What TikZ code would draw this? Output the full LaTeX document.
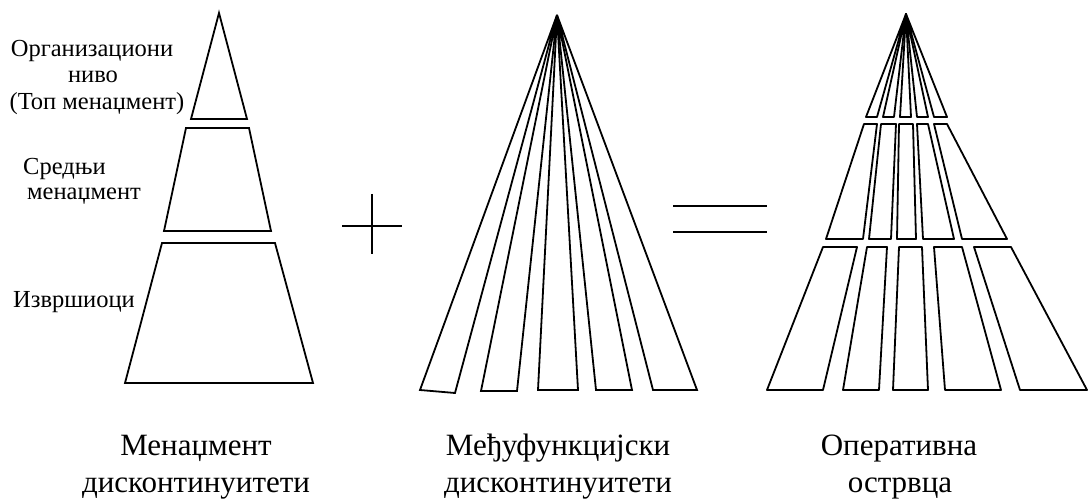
\documentclass[tikz,border=0pt]{standalone}
\usepackage{fontspec}
\setmainfont{Liberation Serif}
\tikzset{
  lvlshape/.style={draw=black, line width=1.8pt, line join=miter},
  fanstrip/.style={draw=black, line width=1.8pt, line join=miter},
  islebox/.style={draw=black, line width=1.8pt, line join=round},
  opsign/.style={line width=2.8pt, draw=black, line cap=butt},
  sidelbl/.style={font=\fontsize{24.5}{27}\selectfont, inner sep=0pt},
  captlbl/.style={font=\fontsize{31}{43}\selectfont, inner sep=0pt},
}
\begin{document}
\begin{tikzpicture}[x=1pt,y=-1pt]
\useasboundingbox (0,0) rectangle (1088,502);
% management levels
\draw[lvlshape] (219,13) -- (247,119) -- (191,119) -- cycle;
\draw[lvlshape] (186,128) -- (249,128) -- (271,231) -- (164,231) -- cycle;
\draw[lvlshape] (162,243) -- (275,243) -- (313,383) -- (125,383) -- cycle;
\node[sidelbl, anchor=base] (org1) at (92,57) {Организациони};
\node[sidelbl, anchor=base] (org2) at (93,83) {ниво};
\node[sidelbl, anchor=base] (org3) at (97,110) {(Топ менаџмент)};
\node[sidelbl, anchor=base west] (mid1) at (23,175) {Средњи};
\node[sidelbl, anchor=base west] (mid2) at (27,200) {менаџмент};
\node[sidelbl, anchor=base west] (exec) at (13,308) {Извршиоци};
% plus
\draw[opsign] (372,194) -- (372,254);
\draw[opsign] (342,226) -- (402,226);
% functional fan
\draw[fanstrip] (557,15) -- (455,393) -- (420,390) -- cycle;
\draw[fanstrip] (557,15) -- (517,391) -- (481,391) -- cycle;
\draw[fanstrip] (557,15) -- (578,390) -- (538,390) -- cycle;
\draw[fanstrip] (557,15) -- (632,390) -- (596,390) -- cycle;
\draw[fanstrip] (557,15) -- (697,390) -- (653,390) -- cycle;
% equals
\draw[opsign] (673,206) -- (767,206);
\draw[opsign] (673,232) -- (767,232);
% operative islands, top row
\draw[islebox] (906,14) -- (877,117) -- (866,117) -- cycle;
\draw[islebox] (906,14) -- (894,117) -- (883,117) -- cycle;
\draw[islebox] (906,14) -- (911,117) -- (900,117) -- cycle;
\draw[islebox] (906,14) -- (928,117) -- (917,117) -- cycle;
\draw[islebox] (906,14) -- (947,117) -- (934,117) -- cycle;
% middle row
\draw[islebox] (864,124) -- (877,124) -- (863,239) -- (826,239) -- cycle;
\draw[islebox] (881,124) -- (896,124) -- (891,239) -- (869,239) -- cycle;
\draw[islebox] (899,124) -- (913,124) -- (916,239) -- (897,239) -- cycle;
\draw[islebox] (917,124) -- (928,124) -- (954,239) -- (923,239) -- cycle;
\draw[islebox] (934,124) -- (947,124) -- (1007,239) -- (962,239) -- cycle;
% bottom row
\draw[islebox] (823,247) -- (857,247) -- (823,390) -- (767,390) -- cycle;
\draw[islebox] (867,247) -- (887,247) -- (879,390) -- (843,390) -- cycle;
\draw[islebox] (899,247) -- (922,247) -- (928,390) -- (893,390) -- cycle;
\draw[islebox] (934,247) -- (962,247) -- (1001,390) -- (945,390) -- cycle;
\draw[islebox] (974,247) -- (1011,247) -- (1087,390) -- (1020,390) -- cycle;
% captions
\node[captlbl, anchor=base] (mgmt1) at (196,456) {Менаџмент};
\node[captlbl, anchor=base] (mgmt2) at (196,493) {дисконтинуитети};
\node[captlbl, anchor=base] (func1) at (558,456) {Међуфункцијски};
\node[captlbl, anchor=base] (func2) at (558,493) {дисконтинуитети};
\node[captlbl, anchor=base] (oper1) at (899,456) {Оперативна};
\node[captlbl, anchor=base] (oper2) at (900,493) {острвца};
\end{tikzpicture}
\end{document}
